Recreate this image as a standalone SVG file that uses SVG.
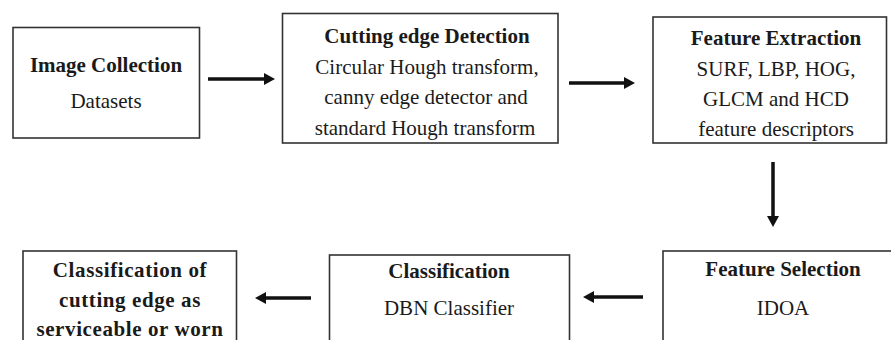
<svg xmlns="http://www.w3.org/2000/svg" width="891" height="340" viewBox="0 0 891 340">
<defs>
<style>
.box{fill:#ffffff;stroke:#333333;stroke-width:1.6}
.t{font-size:21px;fill:#1a1a1a;text-anchor:middle}
.b{font-weight:bold}
.c{stroke:#111111;stroke-width:3.5;fill:none}
.h{fill:#111111}
</style>
</defs>
<rect width="891" height="340" fill="#ffffff"/>
<g font-family="Liberation Serif, Tinos, Times New Roman, Times, DejaVu Serif, Noto Serif, serif">
<g id="image-collection">
<rect class="box" x="13" y="27.5" width="186.5" height="110.5"/>
<text class="t b" x="106" y="72">Image Collection</text>
<text class="t" x="106" y="108">Datasets</text>
</g>
<g id="cutting-edge-detection">
<rect class="box" x="282.5" y="13.5" width="275.5" height="129.5"/>
<text class="t b" x="427" y="43">Cutting edge Detection</text>
<text class="t" x="427" y="74">Circular Hough transform,</text>
<text class="t" x="426" y="104">canny edge detector and</text>
<text class="t" x="425" y="135">standard Hough transform</text>
</g>
<g id="feature-extraction">
<rect class="box" x="653" y="17" width="233.5" height="126"/>
<text class="t b" x="776" y="45">Feature Extraction</text>
<text class="t" x="776" y="76">SURF, LBP, HOG,</text>
<text class="t" x="776" y="106">GLCM and HCD</text>
<text class="t" x="776" y="136">feature descriptors</text>
</g>
<g id="feature-selection">
<rect class="box" x="663" y="251" width="240" height="100"/>
<text class="t b" x="783" y="276">Feature Selection</text>
<text class="t" x="783" y="315">IDOA</text>
</g>
<g id="classification">
<rect class="box" x="329.5" y="255" width="240" height="100"/>
<text class="t b" x="449" y="278">Classification</text>
<text class="t" x="449" y="315">DBN Classifier</text>
</g>
<g id="classification-result">
<rect class="box" x="23" y="251" width="213.5" height="100"/>
<text class="t b" x="130" y="277" letter-spacing="0.6">Classification of</text>
<text class="t b" x="130" y="307" letter-spacing="0.6">cutting edge as</text>
<text class="t b" x="130" y="336" letter-spacing="0.6">serviceable or worn</text>
</g>
</g>
<g id="connectors">
<line class="c" x1="208" y1="79" x2="265" y2="79"/>
<polygon class="h" points="275,79 264,73 264,85"/>
<line class="c" x1="569" y1="83" x2="625" y2="83"/>
<polygon class="h" points="635,83 624,77 624,89"/>
<line class="c" x1="773" y1="162" x2="773" y2="217"/>
<polygon class="h" points="773,227 767,216 779,216"/>
<line class="c" x1="643" y1="297" x2="593" y2="297"/>
<polygon class="h" points="583,297 594,291 594,303"/>
<line class="c" x1="311" y1="298" x2="265" y2="298"/>
<polygon class="h" points="255,298 266,292 266,304"/>
</g>
</svg>
